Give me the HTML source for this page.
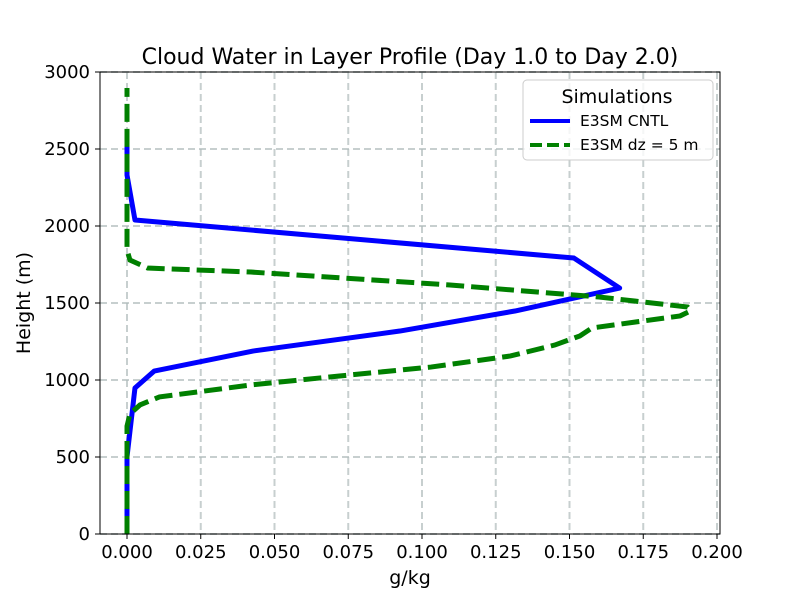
<!DOCTYPE html>
<html><head><meta charset="utf-8"><style>
body{margin:0;background:#fff;}
svg text{font-family:"DejaVu Sans","Liberation Sans",sans-serif;}
</style></head><body>
<svg id="chart" width="800" height="600" xmlns="http://www.w3.org/2000/svg">
<rect width="800" height="600" fill="#fff"/>
<g id="grid"></g>
<g id="series"></g>
<rect x="100" y="72" width="620" height="462" fill="none" stroke="#000" stroke-width="1"/>
<g id="axes"></g>
<text x="410" y="64" text-anchor="middle" font-size="22">Cloud Water in Layer Profile (Day 1.0 to Day 2.0)</text>
<text x="410" y="584" text-anchor="middle" font-size="19">g/kg</text>
<text x="30" y="303" text-anchor="middle" font-size="19" transform="rotate(-90 30 303)">Height (m)</text>
<g>
<rect x="523" y="80" width="190" height="80" rx="4" fill="#fff" fill-opacity="0.8" stroke="#ccc"/>
<text x="617" y="103" text-anchor="middle" font-size="19">Simulations</text>
<line x1="530" y1="121" x2="570" y2="121" stroke="#0000ff" stroke-width="4"/>
<text x="580" y="126" font-size="15.5">E3SM CNTL</text>
<line x1="530" y1="145" x2="570" y2="145" stroke="#008000" stroke-width="4" stroke-dasharray="12 5"/>
<text x="580" y="150" font-size="15.5">E3SM dz = 5 m</text>
</g>
</svg>
<script>
const xTicks=[0,0.025,0.05,0.075,0.1,0.125,0.15,0.175,0.2];
const xTickLabels=["0.000","0.025","0.050","0.075","0.100","0.125","0.150","0.175","0.200"];
const yTicks=[0,500,1000,1500,2000,2500,3000];
const cntlX=[0,0,0.0027,0.0092,0.0427,0.0925,0.1315,0.167,0.1515,0.0027,0,0];
const cntlY=[0,500,948,1058,1188,1318,1448,1597,1792,2039,2331,2600];
const dzX=[0,0,0.001,0.0044,0.011,0.042,0.072,0.103,0.13,0.145,0.1535,0.1576,0.1875,0.191,0.19,0.16,0.1095,0.042,0.007,0.001,0,0];
const dzY=[0,700,780,838,890,968,1026,1084,1156,1227,1286,1338,1416,1448,1474,1539,1617,1701,1727,1779,1844,2896];
const NS="http://www.w3.org/2000/svg";
const xs=v=>127+v*2950;
const ys=v=>534-v*462/3000;
const grid=document.getElementById('grid'),axes=document.getElementById('axes'),ser=document.getElementById('series');
function mk(tag,attrs,parent){const e=document.createElementNS(NS,tag);for(const k in attrs)e.setAttribute(k,attrs[k]);parent.appendChild(e);return e;}
xTicks.forEach((t,i)=>{
 const g=mk('line',{x1:xs(t),x2:xs(t),y1:72,y2:534,stroke:'#b0bcbc','stroke-width':2,'stroke-dasharray':'7 4',opacity:0.7},grid);
 
 
 const tk=mk('line',{x1:xs(t),x2:xs(t),y1:534,y2:539,stroke:'#000'},axes);
 
 
 const tx=mk('text',{x:xs(t),y:558,'text-anchor':'middle','font-size':18},axes);
 tx.textContent=xTickLabels[i];
 
 
});
yTicks.forEach(t=>{
 const g=mk('line',{x1:100,x2:720,y1:ys(t),y2:ys(t),stroke:'#b0bcbc','stroke-width':2,'stroke-dasharray':'7 4',opacity:0.7},grid);
 
 
 const tk=mk('line',{x1:95,x2:100,y1:ys(t),y2:ys(t),stroke:'#000'},axes);
 
 
 const tx=mk('text',{x:90,y:ys(t)+6,'text-anchor':'end','font-size':18},axes);
 tx.textContent=String(t);
 
 
});
function pts(X,Y){return X.map((v,i)=>xs(v)+','+ys(Y[i])).join(' ');}
const l1=mk('polyline',{points:pts(cntlX,cntlY),fill:'none',stroke:'#0000ff','stroke-width':5,'stroke-linejoin':'round'},ser);


const l2=mk('polyline',{points:pts(dzX,dzY),fill:'none',stroke:'#008000','stroke-width':5,'stroke-dasharray':'18 7'},ser);


</script>
</body></html>
